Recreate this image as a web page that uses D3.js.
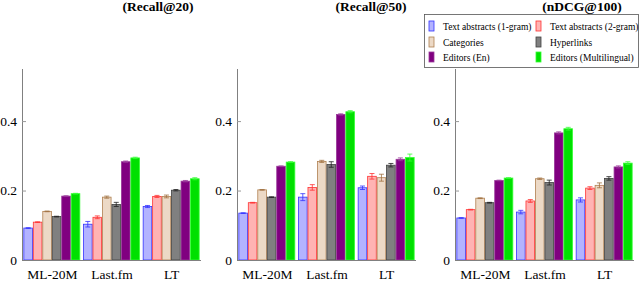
<script src="https://cdn.jsdelivr.net/npm/d3@7"></script>

<style type="text/css">
  body { margin: 0; background: #fff; }
  svg { width: 640px; height: 281px; font-family: "Liberation Serif", "Times New Roman", serif; }
  svg text { font-family: "Liberation Serif", "Times New Roman", serif; }
</style>

<body></body>

<script>
  // data
  var datasets = ["ML-20M", "Last.fm", "LT"];
  var methods = ["Text abstracts (1-gram)", "Text abstracts (2-gram)", "Categories",
                 "Hyperlinks", "Editors (En)", "Editors (Multilingual)"];
  var titles = ["(Recall@20)", "(Recall@50)", "(nDCG@100)"];
  var yTicks = [0, 0.2, 0.4];

  // one row per dataset, one value per method
  var recall20 = [[0.092, 0.109, 0.140, 0.125, 0.184, 0.191],
                  [0.103, 0.123, 0.181, 0.160, 0.283, 0.294],
                  [0.154, 0.183, 0.183, 0.201, 0.227, 0.234]];
  var recall20Err = [[0.001, 0.001, 0.001, 0.001, 0.001, 0.001],
                     [0.008, 0.004, 0.003, 0.006, 0.002, 0.002],
                     [0.003, 0.003, 0.004, 0.002, 0.002, 0.003]];
  var recall50 = [[0.135, 0.165, 0.202, 0.181, 0.270, 0.282],
                  [0.181, 0.209, 0.284, 0.275, 0.419, 0.427],
                  [0.208, 0.241, 0.237, 0.273, 0.290, 0.295]];
  var recall50Err = [[0.001, 0.001, 0.001, 0.001, 0.001, 0.001],
                     [0.010, 0.008, 0.003, 0.008, 0.002, 0.003],
                     [0.005, 0.008, 0.010, 0.005, 0.004, 0.010]];
  var ndcg100 = [[0.121, 0.145, 0.178, 0.165, 0.229, 0.236],
                 [0.138, 0.170, 0.234, 0.223, 0.366, 0.378],
                 [0.173, 0.207, 0.215, 0.235, 0.268, 0.279]];
  var ndcg100Err = [[0.001, 0.001, 0.001, 0.001, 0.001, 0.001],
                    [0.005, 0.004, 0.002, 0.007, 0.003, 0.004],
                    [0.006, 0.004, 0.007, 0.005, 0.003, 0.004]];

  var panelValues = [recall20, recall50, ndcg100];
  var panelErrors = [recall20Err, recall50Err, ndcg100Err];

  // styles
  var fills   = ["#b3b3ff", "#ffb3b3", "#ecd9c6", "#808080", "#800080", "#00e000"];
  var strokes = ["#3333ff", "#ff3333", "#b08050", "#404040", "#9a3a9a", "#33ff33"];
  var errColors = ["#3333ff", "#ff3333", "#a07040", "#222222", "#9a3a9a", "#33ff33"];

  var width = 640, height = 281;
  var panelLeft = [22, 237, 455];
  var panelWidth = 179;
  var titleX = [158, 371, 582];
  var plotTop = 69, plotBottom = 260;

  var svg = d3.select('body').append('svg')
    .attr('viewBox', [0, 0, width, height]);

  var yScale = d3.scaleLinear()
    .domain([0, 0.55])
    .range([plotBottom, plotTop]);

  var inner = d3.scaleBand()
    .domain(methods)
    .range([-28, 28])
    .paddingInner(0.09);

  panelValues.forEach(function(values, p) {
    var x0 = panelLeft[p];
    var xScale = d3.scalePoint()
      .domain(datasets)
      .range([x0, x0 + panelWidth])
      .padding(0.5);

    var g = svg.append('g');

    // bars
    datasets.forEach(function(ds, i) {
      methods.forEach(function(m, j) {
        var v = values[i][j];
        var e = panelErrors[p][i][j];
        var bx = xScale(ds) + inner(m);
        g.append('rect')
          .attr('x', bx)
          .attr('y', yScale(v))
          .attr('width', inner.bandwidth())
          .attr('height', yScale(0) - yScale(v))
          .attr('fill', fills[j])
          .attr('stroke', strokes[j])
          .attr('stroke-width', 0.8);
        // error bar
        var cx = bx + inner.bandwidth() / 2;
        var eg = g.append('g').attr('stroke', errColors[j])
          .attr('stroke-width', 0.8);
        eg.append('line').attr('x1', cx).attr('x2', cx)
          .attr('y1', yScale(v - e)).attr('y2', yScale(v + e));
        [v - e, v + e].forEach(function(ev) {
          eg.append('line').attr('x1', cx - 2.5).attr('x2', cx + 2.5)
            .attr('y1', yScale(ev)).attr('y2', yScale(ev));
        });
      });
    });

    // y axis
    var yAxis = d3.axisLeft(yScale)
      .tickValues(yTicks)
      .tickSizeInner(-4)
      .tickSizeOuter(0)
      .tickPadding(5)
      .tickFormat(function(d) { return d === 0 ? "0" : d3.format(".1f")(d); });
    var ya = g.append('g')
      .attr('transform', 'translate(' + [x0, 0] + ')')
      .call(yAxis)
      .attr('font-family', null)
      .attr('font-size', 13.5);
    ya.select('.domain').attr('stroke', '#808080')
      .attr('d', 'M0.5,' + plotBottom + 'V' + plotTop);
    ya.selectAll('.tick line').attr('stroke', '#999');
    ya.selectAll('.tick text').attr('fill', '#000').attr('x', -5);
    ya.selectAll('.tick').filter(function(d) { return d === 0; }).select('line').remove();

    // x axis line
    var xAxis = d3.axisBottom(xScale).tickSize(0).tickPadding(9);
    var xa = g.append('g')
      .attr('transform', 'translate(' + [0, plotBottom] + ')')
      .call(xAxis)
      .attr('font-family', null)
      .attr('font-size', 13.5);
    xa.select('.domain').attr('stroke', '#808080')
      .attr('d', 'M' + x0 + ',0.5H' + (x0 + panelWidth));
    xa.selectAll('.tick text').attr('fill', '#000');

    // title
    svg.append('text')
      .attr('x', titleX[p])
      .attr('y', 10.5)
      .attr('text-anchor', 'middle')
      .attr('font-weight', 'bold')
      .attr('font-size', 13.5)
      .text(titles[p]);
  });

  // legend
  var legend = svg.append('g');
  legend.append('rect')
    .attr('x', 424.5).attr('y', 14.5)
    .attr('width', 214).attr('height', 53)
    .attr('fill', '#fff').attr('stroke', '#555').attr('stroke-width', 0.8);
  var rowY = [26, 42, 57];
  var colX = [429, 536];
  methods.forEach(function(m, j) {
    var cx = colX[j % 2], cy = rowY[Math.floor(j / 2)];
    legend.append('rect')
      .attr('x', cx).attr('y', cy - 5)
      .attr('width', 5).attr('height', 10)
      .attr('fill', fills[j]).attr('stroke', strokes[j]).attr('stroke-width', 0.8);
    legend.append('text')
      .attr('x', cx + 14).attr('y', cy + 3.5)
      .attr('font-size', 9.5)
      .text(m);
  });
</script>
